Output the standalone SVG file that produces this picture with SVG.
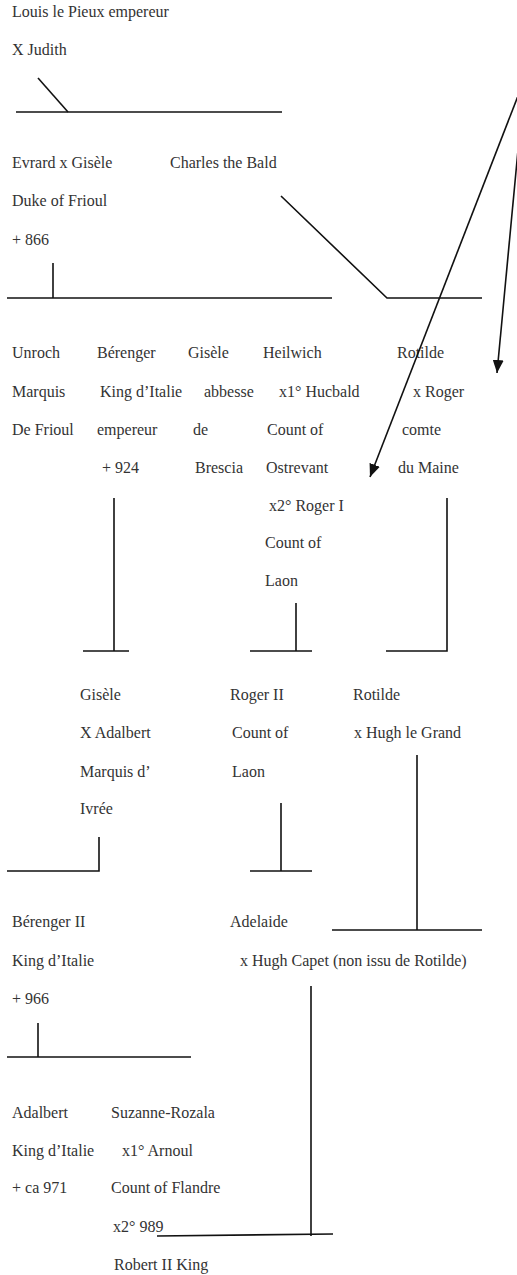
<svg xmlns="http://www.w3.org/2000/svg" width="517" height="1275" viewBox="0 0 517 1275">
  <style>
    text { font-family: "Liberation Serif", "Times New Roman", serif; font-size: 16px; fill: #333333; }
    .ln { stroke: #111111; stroke-width: 1.6; fill: none; }
  </style>
  <defs>
    <marker id="head" viewBox="0 0 13 11" refX="13" refY="5.5" markerWidth="13" markerHeight="11" markerUnits="userSpaceOnUse" orient="auto">
      <path d="M0,0 L13,5.5 L0,11 z" fill="#111111"/>
    </marker>
  </defs>
  <rect width="517" height="1275" fill="#ffffff"/>

  <!-- generation 1 -->
  <g id="louis">
    <text x="12" y="17">Louis le Pieux empereur</text>
    <text x="12" y="55">X Judith</text>
  </g>

  <!-- generation 2 -->
  <g id="evrard-gisele">
    <text x="12" y="168">Evrard x Gisèle</text>
    <text x="12" y="206">Duke of Frioul</text>
    <text x="12" y="245">+ 866</text>
  </g>
  <g id="charles">
    <text x="170" y="168">Charles the Bald</text>
  </g>

  <!-- generation 3 -->
  <g id="unroch">
    <text x="12" y="358">Unroch</text>
    <text x="12" y="397">Marquis</text>
    <text x="12" y="435">De Frioul</text>
  </g>
  <g id="berenger">
    <text x="97" y="358">Bérenger</text>
    <text x="100" y="397">King d’Italie</text>
    <text x="97" y="435">empereur</text>
    <text x="102" y="473">+ 924</text>
  </g>
  <g id="gisele-abbesse">
    <text x="188" y="358">Gisèle</text>
    <text x="204" y="397">abbesse</text>
    <text x="193" y="435">de</text>
    <text x="195" y="473">Brescia</text>
  </g>
  <g id="heilwich">
    <text x="263" y="358">Heilwich</text>
    <text x="279" y="397">x1° Hucbald</text>
    <text x="267" y="435">Count of</text>
    <text x="266" y="473">Ostrevant</text>
    <text x="269" y="511">x2° Roger I</text>
    <text x="265" y="548">Count of</text>
    <text x="265" y="586">Laon</text>
  </g>
  <g id="rotilde-maine">
    <text x="397" y="358">Rotilde</text>
    <text x="413" y="397">x Roger</text>
    <text x="402" y="435">comte</text>
    <text x="398" y="473">du Maine</text>
  </g>

  <!-- generation 4 -->
  <g id="gisele-ivree">
    <text x="80" y="700">Gisèle</text>
    <text x="80" y="738">X Adalbert</text>
    <text x="80" y="777">Marquis d’</text>
    <text x="80" y="814">Ivrée</text>
  </g>
  <g id="roger-ii">
    <text x="230" y="700">Roger II</text>
    <text x="232" y="738">Count of</text>
    <text x="232" y="777">Laon</text>
  </g>
  <g id="rotilde-hugh">
    <text x="353" y="700">Rotilde</text>
    <text x="354" y="738">x Hugh le Grand</text>
  </g>

  <!-- generation 5 -->
  <g id="berenger-ii">
    <text x="12" y="927">Bérenger II</text>
    <text x="12" y="966">King d’Italie</text>
    <text x="12" y="1004">+ 966</text>
  </g>
  <g id="adelaide">
    <text x="230" y="927">Adelaide</text>
    <text x="240" y="966">x Hugh Capet (non issu de Rotilde)</text>
  </g>

  <!-- generation 6 -->
  <g id="adalbert">
    <text x="12" y="1118">Adalbert</text>
    <text x="12" y="1156">King d’Italie</text>
    <text x="12" y="1193">+ ca 971</text>
  </g>
  <g id="suzanne-rozala">
    <text x="111" y="1118">Suzanne-Rozala</text>
    <text x="122" y="1156">x1° Arnoul</text>
    <text x="111" y="1193">Count of Flandre</text>
    <text x="113" y="1232">x2° 989</text>
  </g>
  <g id="robert-ii">
    <text x="114" y="1270">Robert II King</text>
  </g>

  <g id="connectors">
    <!-- Louis x Judith -->
    <path class="ln" d="M38,78 L68,112"/>
    <path class="ln" d="M16,112 L282,112"/>
    <!-- Charles the Bald -->
    <path class="ln" d="M281,196 L387,298 L482,298"/>
    <!-- Evrard x Gisèle -->
    <path class="ln" d="M53,263 L53,298"/>
    <path class="ln" d="M7,298 L332,298"/>
    <!-- Bérenger -->
    <path class="ln" d="M114,498 L114,651"/>
    <path class="ln" d="M83,651 L129,651"/>
    <!-- Heilwich -->
    <path class="ln" d="M296,603 L296,651"/>
    <path class="ln" d="M250,651 L312,651"/>
    <!-- Rotilde x Roger -->
    <path class="ln" d="M447,498 L447,651 L386,651"/>
    <!-- Gisèle x Adalbert -->
    <path class="ln" d="M99,837 L99,871 L7,871"/>
    <!-- Roger II -->
    <path class="ln" d="M281,803 L281,871"/>
    <path class="ln" d="M250,871 L312,871"/>
    <!-- Rotilde x Hugh le Grand -->
    <path class="ln" d="M417,755 L417,930"/>
    <path class="ln" d="M332,930 L482,930"/>
    <!-- Bérenger II -->
    <path class="ln" d="M38,1023 L38,1057"/>
    <path class="ln" d="M7,1057 L191,1057"/>
    <!-- Adelaide x Hugh Capet -->
    <path class="ln" d="M311,986 L311,1236"/>
    <path class="ln" d="M157,1236 L333,1234"/>
    <!-- arrows from the right edge -->
    <path class="ln" d="M523,83 L370,477" marker-end="url(#head)"/>
    <path class="ln" d="M523,97 L497,373" marker-end="url(#head)"/>
  </g>
</svg>
